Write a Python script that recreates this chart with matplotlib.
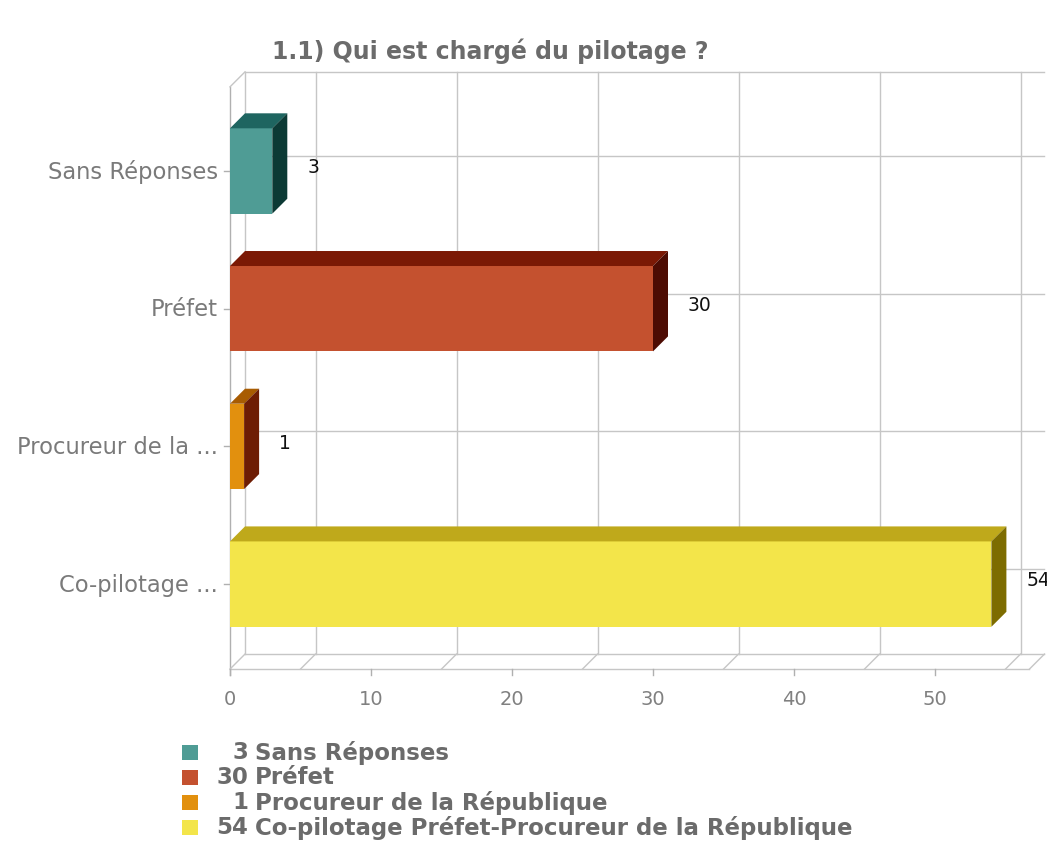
import matplotlib
matplotlib.use('Agg')
import matplotlib.pyplot as plt
from matplotlib.patches import Polygon, Rectangle

# Datos
categorias = ['Sans Réponses', 'Préfet', 'Procureur de la ...', 'Co-pilotage ...']
valores = [3, 30, 1, 54]
leyenda = ['Sans Réponses', 'Préfet', 'Procureur de la République',
           'Co-pilotage Préfet-Procureur de la République']
ticks_x = [0, 10, 20, 30, 40, 50]
grid_x = [5, 15, 25, 35, 45, 55]

# colores: cara frontal, cara superior, cara lateral
frente = ['#4f9c95', '#c4512f', '#e2900e', '#f3e54a']
arriba = ['#1e6560', '#7b1905', '#a85c02', '#bfa91b']
lado = ['#0c3a35', '#4d0c03', '#6e1d04', '#7d6c00']

W, H = 1047, 845
px_x = 14.1      # pixeles por unidad
px_y = 137.7     # pixeles por categoria
x0, y0 = 230, 172

fig = plt.figure(figsize=(W / 100, H / 100), dpi=100)
ax = fig.add_axes([0, 0, 1, 1])
ax.set_xlim(-x0 / px_x, (W - x0) / px_x)
ax.set_ylim((H - y0) / px_y, -y0 / px_y)
ax.axis('off')

dx = 15 / px_x
dy = -15 / px_y
h = 0.31
xmax = 56.7
techo = -0.72
suelo = 3.617
gc = '#c6c6c6'

# pared del fondo y suelo
ax.plot([dx, dx], [techo, suelo + dy], color=gc, lw=1)
ax.plot([0, 0], [techo - dy, suelo + 0.04], color='#b0b0b0', lw=1)
ax.plot([0, dx], [techo - dy, techo], color=gc, lw=1)
ax.plot([dx, xmax + dx], [techo, techo], color=gc, lw=1)
ax.plot([0, xmax], [suelo, suelo], color=gc, lw=1)
ax.plot([dx, xmax + dx], [suelo + dy, suelo + dy], color=gc, lw=1)
for v in grid_x:
    ax.plot([v + dx, v + dx], [techo, suelo + dy], color=gc, lw=1)
for v in [0] + grid_x + [xmax]:
    ax.plot([v, v + dx], [suelo, suelo + dy], color=gc, lw=1)
for i in range(len(categorias)):
    ax.plot([dx, xmax + dx], [i + dy, i + dy], color=gc, lw=1)

# marcas y etiquetas de ejes
for t in ticks_x:
    ax.plot([t, t], [suelo, suelo + 0.045], color='#b0b0b0', lw=1)
    ax.text(t, 3.834, str(t), ha='center', va='center', fontsize=14, color='#808080')
for i, c in enumerate(categorias):
    ax.plot([-0.4, 0], [i, i], color='#b0b0b0', lw=1)
    ax.text(-0.85, i, c, ha='right', va='center', fontsize=16.3, color='#7a7a7a')

# barras 3D
for i, v in enumerate(valores):
    top, bot = i - h, i + h
    ax.add_patch(Polygon([(0, top), (v, top), (v, bot), (0, bot)], closed=True,
                         facecolor=frente[i], edgecolor='none', zorder=3))
    ax.add_patch(Polygon([(0, top), (dx, top + dy), (v + dx, top + dy), (v, top)], closed=True,
                         facecolor=arriba[i], edgecolor='none', zorder=3))
    ax.add_patch(Polygon([(v, top), (v + dx, top + dy), (v + dx, bot + dy), (v, bot)], closed=True,
                         facecolor=lado[i], edgecolor='none', zorder=3))
    ax.text(v + 35 / px_x, i - 0.03, str(v), ha='left', va='center', fontsize=13.5, color='#111111',
            zorder=4)

# titulo
fig.text(272 / W, 1 - 51 / H, '1.1) Qui est chargé du pilotage ?', ha='left', va='center',
         fontsize=17, fontweight='bold', color='#6b6b6b')

# leyenda
for k, (v, nom) in enumerate(zip(valores, leyenda)):
    yy = 1 - (753 + 25 * k) / H
    fig.patches.append(Rectangle((182 / W, yy - 7.5 / H), 16 / W, 15 / H, transform=fig.transFigure,
                                 facecolor=frente[k], edgecolor='none'))
    fig.text(248 / W, yy, str(v), ha='right', va='center', fontsize=16.5,
             fontweight='bold', color='#6b6b6b')
    fig.text(255 / W, yy, nom, ha='left', va='center', fontsize=16.5,
             fontweight='bold', color='#6b6b6b')

fig.savefig('out.png', dpi=100)
